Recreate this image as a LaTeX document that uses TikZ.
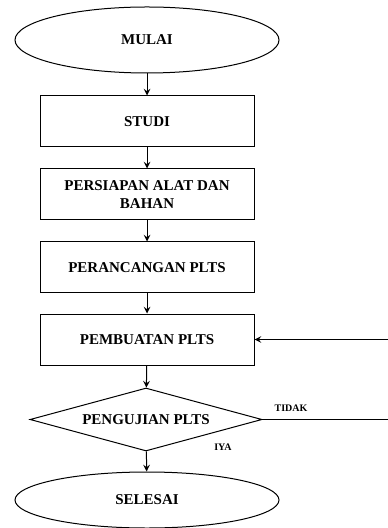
\documentclass[tikz,border=0pt]{standalone}
\usepackage{fontspec}
\setmainfont{Liberation Serif}
\usetikzlibrary{shapes.geometric}

\begin{document}
\begin{tikzpicture}[x=0.5pt, y=-0.5pt, line width=0.5pt,
  teks/.style={font=\fontsize{7.5}{8.8}\selectfont\bfseries, align=center},
  oval/.style={draw, ellipse, teks, inner sep=0pt, minimum width=132pt},
  kotak/.style={draw, rectangle, teks, minimum width=107pt, minimum height=25.5pt},
  pilih/.style={draw, diamond, aspect=3.7, teks, inner sep=0pt, minimum width=116pt, minimum height=31.5pt},
  ket/.style={font=\fontsize{5}{6}\selectfont\bfseries},
  panah/.style={->, >=stealth}]
  \useasboundingbox (0,0) rectangle (387,528);
  \node[oval, minimum height=33pt] (mulai) at (147,40) {MULAI};
  \node[kotak] (studi) at (147,121.5) {STUDI};
  \node[kotak] (persiapan) at (147,194.5) {PERSIAPAN ALAT DAN\\BAHAN};
  \node[kotak] (rancang) at (147,267.5) {PERANCANGAN PLTS};
  \node[kotak] (buat) at (147,339.5) {PEMBUATAN PLTS};
  \node[pilih] (uji) at (146,419.5) {PENGUJIAN PLTS};
  \node[oval, minimum height=28pt] (selesai) at (147,500) {SELESAI};
  \node[ket] (tidak) at (291,408) {TIDAK};
  \node[ket] (iya) at (223,447) {IYA};
  \coordinate (kanan) at (393,0);
  \draw[panah] (mulai) -- (studi);
  \draw[panah] (studi) -- (persiapan);
  \draw[panah] (persiapan) -- (rancang);
  \draw[panah] (rancang) -- (buat);
  \draw[panah] (buat) -- (uji);
  \draw[panah] (uji) -- (selesai);
  \draw[panah] (uji.east) -- (uji.east -| kanan) -- (buat.east -| kanan) -- (buat.east);
\end{tikzpicture}
\end{document}
